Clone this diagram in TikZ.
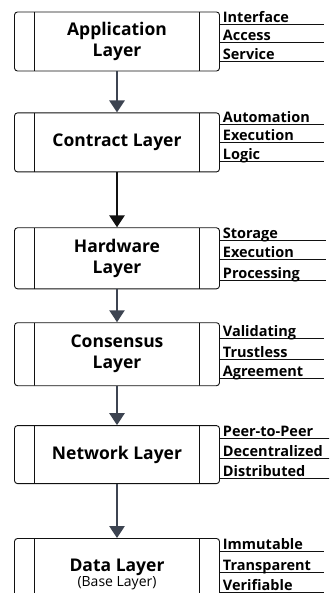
\documentclass[tikz,border=0pt]{standalone}
\usepackage{fontspec}
\setmainfont{Open Sans}
\usetikzlibrary{arrows.meta,positioning,calc}
\definecolor{ink}{HTML}{111111}
\definecolor{slate}{HTML}{3D4451}
\tikzset{
  layerbox/.style={draw=ink,rounded corners=3pt,line width=0.9pt,
                   minimum width=205pt,minimum height=59pt,inner sep=0pt,
                   align=center,font=\fontsize{17.5}{21}\selectfont\bfseries,
                   path picture={\draw[ink,line width=0.9pt]
                     ([xshift=20pt]path picture bounding box.north west) -- ([xshift=20pt]path picture bounding box.south west)
                     ([xshift=-20pt]path picture bounding box.north east) -- ([xshift=-20pt]path picture bounding box.south east);}},
  tagline/.style={draw=ink,line width=0.9pt},
  tag/.style={anchor=base west,inner sep=0pt,xshift=2.5pt,yshift=1.8pt,
              font=\fontsize{14.5}{16}\selectfont\bfseries},
  downarr/.style={-{Triangle[length=12pt,width=15pt]},line width=2.6pt,color=slate}
}

\begin{document}
\begin{tikzpicture}[x=1pt,y=-1pt]
  \useasboundingbox (0,0) rectangle (329,593);
  \clip (0,0) rectangle (329,593);

  % the six layers, top to bottom
  \node[layerbox] (app) at (117,41.5) {Application\\Layer};
  \node[layerbox,below=41pt of app] (con) {Contract Layer};
  \node[layerbox,below=55pt of con,minimum height=61pt] (hw) {Hardware\\Layer};
  \node[layerbox,below=33pt of hw,minimum height=63pt] (cns) {Consensus\\Layer};
  \node[layerbox,below=39pt of cns,minimum height=58pt] (net) {Network Layer};
  \node[layerbox,below=54pt of net,minimum height=72pt,
        font=\fontsize{17.5}{17}\selectfont] (dat)
        {\bfseries Data Layer\\[-1.5pt]\fontsize{14}{15}\selectfont\mdseries (Base Layer)};

  % arrows between layers
  \draw[downarr] (app) -- (con);
  \draw[downarr,color=ink] (con) -- (hw);
  \draw[downarr] (hw) -- (cns);
  \draw[downarr] (cns) -- (net);
  \draw[downarr] (net) -- (dat);

  % keywords on the right of each layer
  \foreach \dy/\tx [count=\k] in {13/Interface,31/Access,50/Service}
    \draw[tagline] ($(app.north east)+(0,\dy)$) -- ++(104,0) node[tag,pos=0] (app-\k) {\tx};
  \foreach \dy/\tx [count=\k] in {12/Automation,30/Execution,49/Logic}
    \draw[tagline] ($(con.north east)+(0,\dy)$) -- ++(104,0) node[tag,pos=0] (con-\k) {\tx};
  \foreach \dy/\tx [count=\k] in {13/Storage,32/Execution,53/Processing}
    \draw[tagline] ($(hw.north east)+(0,\dy)$) -- ++(106,0) node[tag,pos=0] (hw-\k) {\tx};
  \foreach \dy/\tx [count=\k] in {16/Validating,37/Trustless,56/Agreement}
    \draw[tagline] ($(cns.north east)+(0,\dy)$) -- ++(104,0) node[tag,pos=0] (cns-\k) {\tx};
  \foreach \dy/\tx [count=\k] in {13/Peer-to-Peer,33/Decentralized,53/Distributed}
    \draw[tagline] ($(net.north east)+(0,\dy)$) -- ++(112,0) node[tag,pos=0] (net-\k) {\tx};
  \foreach \dy/\tx [count=\k] in {13/Immutable,34/Transparent,54/Verifiable}
    \draw[tagline] ($(dat.north east)+(0,\dy)$) -- ++(104,0) node[tag,pos=0] (dat-\k) {\tx};
\end{tikzpicture}
\end{document}
